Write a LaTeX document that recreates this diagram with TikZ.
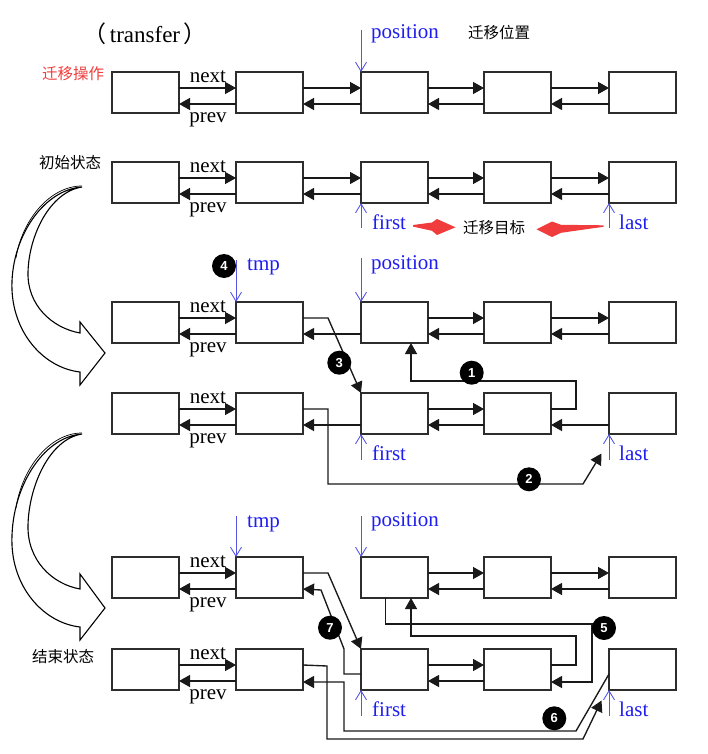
\documentclass[tikz,border=0pt]{standalone}
\usepackage{fontspec}
\setmainfont{Liberation Serif}
\newfontfamily\cjk{Noto Sans CJK SC}
\newfontfamily\numf{Liberation Sans}
\usetikzlibrary{arrows.meta,calc}
\definecolor{boxc}{RGB}{45,45,45}
\definecolor{linec}{RGB}{25,25,25}
\definecolor{ptrc}{RGB}{85,85,230}
\definecolor{ptrtxt}{RGB}{30,30,240}
\definecolor{redc}{RGB}{240,60,60}
\tikzset{
  box/.style={draw=boxc, line width=1.3pt, minimum width=67pt, minimum height=41pt, inner sep=0pt, outer sep=0pt, anchor=north west},
  lnk/.style={draw=linec, line width=1.35pt, -{Triangle[length=11pt,width=12pt]}},
  ptr/.style={draw=ptrc, line width=0.9pt, -{Straight Barb[length=9pt,width=11pt]}},
  ptrlbl/.style={text=ptrtxt, font=\fontsize{21}{24}\selectfont, anchor=base west, inner sep=0pt},
  lbl/.style={text=black, font=\fontsize{21}{24}\selectfont, anchor=base, inner sep=0pt},
  cn/.style={font=\cjk\fontsize{15.5}{18}\selectfont, anchor=west, inner sep=0pt},
  num/.style={circle, fill=black, text=white, font=\numf\bfseries\fontsize{13}{14}\selectfont, minimum size=24pt, inner sep=0pt},
  bigarrow/.style={draw=black, line width=1.1pt, fill=white, line join=miter},
}
\newcommand\nxt[3]{\draw[lnk] ([yshift=-16pt]b#1#2.north east) -- ([yshift=-16pt]b#1#3.north west);}
\newcommand\prv[3]{\draw[lnk] ([yshift=-32pt]b#1#3.north west) -- ([yshift=-32pt]b#1#2.north east);}
\begin{document}
\begin{tikzpicture}[x=1pt,y=-1pt]
\useasboundingbox (0,0) rectangle (708,754);

% boxes and next/prev labels
\foreach \r/\t in {1/72,2/162,3/302,4/393,5/557,6/649}{
  \foreach \i/\x in {1/112,2/236,3/361,4/484,5/609}{
    \node[box] (b\r\i) at (\x,\t) {};
  }
  \node[lbl] (nx\r) at (208,\t+10.5) {next};
  \node[lbl] (pv\r) at (208,\t+50.5) {prev};
}

% title and captions
\node[anchor=base, inner sep=0pt, font=\fontsize{23}{26}\selectfont] (title) at (145,43) {{\cjk （}\hspace{3pt}transfer\hspace{3pt}{\cjk ）}};
\node[cn, text=redc] (op) at (42,74) {迁移操作};
\node[cn] (pos) at (468,33) {迁移位置};
\node[cn] (init) at (39,163) {初始状态};
\node[cn] (tgt) at (463,228) {迁移目标};
\node[cn] (fin) at (32,657) {结束状态};

% row 1
\nxt{1}{1}{2}\prv{1}{1}{2}\nxt{1}{2}{3}\prv{1}{2}{3}\nxt{1}{3}{4}\prv{1}{3}{4}\nxt{1}{4}{5}\prv{1}{4}{5}
\coordinate (p1) at (361,30);
\draw[ptr] (p1) -- (b13.north west);
\node[ptrlbl] (pl1) at (371,38.5) {position};

% row 2
\nxt{2}{1}{2}\prv{2}{1}{2}\nxt{2}{2}{3}\prv{2}{2}{3}\nxt{2}{3}{4}\prv{2}{3}{4}\nxt{2}{4}{5}\prv{2}{4}{5}
\coordinate (f2) at (361,228);
\coordinate (l2) at (609,228);
\draw[ptr] (f2) -- (b23.south west);
\draw[ptr] (l2) -- (b25.south west);
\node[ptrlbl] (fl2) at (372,229) {first};
\node[ptrlbl] (ll2) at (619,229) {last};
\fill[redc] (413,225) -- (432,222.5) -- (437,219) -- (455.5,227.3) -- (437,235) -- (432,230.8) -- (413,226.6) -- cycle;
\fill[redc] (603.5,225.3) -- (561,224.8) -- (552,221.5) -- (536.5,229.3) -- (552,237) -- (561,232.8) -- (603.5,226.8) -- cycle;

% row 3
\nxt{3}{1}{2}\prv{3}{1}{2}\prv{3}{2}{3}\nxt{3}{3}{4}\prv{3}{3}{4}\nxt{3}{4}{5}\prv{3}{4}{5}
\coordinate (t3) at (236,260);
\coordinate (p3) at (361,258);
\draw[ptr] (t3) -- (b32.north west);
\draw[ptr] (p3) -- (b33.north west);
\node[ptrlbl] (tl3) at (247,270.5) {tmp};
\node[ptrlbl] (pl3) at (371,269) {position};

% row 4
\nxt{4}{1}{2}\prv{4}{1}{2}\prv{4}{2}{3}\nxt{4}{3}{4}\prv{4}{3}{4}\prv{4}{4}{5}
\coordinate (f4) at (361,460);
\coordinate (l4) at (609,460);
\draw[ptr] (f4) -- (b43.south west);
\draw[ptr] (l4) -- (b45.south west);
\node[ptrlbl] (fl4) at (372,460.5) {first};
\node[ptrlbl] (ll4) at (619,460.5) {last};

% step connectors between rows 3 and 4
\draw[lnk] ([yshift=-16pt]b42.north east) -- (328,409) -- (328,484) -- (583,484) -- (601.5,453.5);
\draw[lnk] ([yshift=-16pt]b44.north east) -- (576,409) -- (576,381) -- (411,381) -- ([xshift=16.5pt]b33.south);
\draw[lnk] ([yshift=-16pt]b32.north east) -- (328,318) -- (b43.north west);

% row 5
\nxt{5}{1}{2}\prv{5}{1}{2}\nxt{5}{3}{4}\prv{5}{3}{4}\nxt{5}{4}{5}\prv{5}{4}{5}
\coordinate (t5) at (236,516);
\coordinate (p5) at (361,516);
\draw[ptr] (t5) -- (b52.north west);
\draw[ptr] (p5) -- (b53.north west);
\node[ptrlbl] (tl5) at (247,527) {tmp};
\node[ptrlbl] (pl5) at (371,526) {position};

% row 6
\nxt{6}{1}{2}\prv{6}{1}{2}\nxt{6}{3}{4}\prv{6}{3}{4}
\coordinate (f6) at (361,716);
\coordinate (l6) at (609,716);
\draw[ptr] (f6) -- (b63.south west);
\draw[ptr] (l6) -- (b65.south west);
\node[ptrlbl] (fl6) at (372,716.5) {first};
\node[ptrlbl] (ll6) at (619,716.5) {last};

% step connectors between rows 5 and 6
\draw[lnk] ([yshift=-16pt]b52.north east) -- (328,573) -- (b63.north west);
\draw[lnk] ([yshift=-25pt]b63.north west) -- (344,674) -- (344,649) -- (321,590) -- ([yshift=-32pt]b52.north east);
\draw[lnk] ([xshift=-9pt]b53.south) -- (385.5,624) -- (592,624) -- (592,682) -- ([yshift=-33pt]b64.north east);
\draw[lnk] ([yshift=-16pt]b64.north east) -- (576,665) -- (576,636) -- (411,636) -- ([xshift=16.5pt]b53.south);
\draw[lnk] ([yshift=-16pt]b62.north east) -- (327,666) -- (327,739) -- (583,739) -- (601.5,700.5);
\draw[lnk] ([yshift=-25pt]b65.north west) -- (576,731) -- (344,731) -- (344,682) -- ([yshift=-33pt]b62.north east);

% numbered markers
\node[num] (n1) at (471.7,372.7) {1};
\node[num] (n2) at (529,479.3) {2};
\node[num] (n3) at (339.3,362.7) {3};
\node[num] (n4) at (224,266) {4};
\node[num] (n5) at (604,628) {5};
\node[num] (n6) at (554.3,718.3) {6};
\node[num] (n7) at (330,627.7) {7};

% big curved hollow arrows
\draw[bigarrow] (82,187) .. controls (42,190) and (10,240) .. (12,290)
  .. controls (14,335) and (45,368) .. (80,372) -- (80,385) -- (105,353) -- (80,322) -- (80,333)
  .. controls (52,328) and (27,305) .. (28,272) .. controls (29,235) and (50,192) .. (82,187) -- cycle;
\draw[black, line width=0.7pt] (82,186) .. controls (50,186) and (22,220) .. (16,258);
\draw[bigarrow] (82,434) .. controls (42,437) and (10,490) .. (12,545)
  .. controls (14,590) and (45,623) .. (80,627) -- (80,640) -- (105,608) -- (80,574) -- (80,589)
  .. controls (52,584) and (27,560) .. (28,525) .. controls (29,485) and (50,439) .. (82,434) -- cycle;
\draw[black, line width=0.7pt] (82,433) .. controls (50,433) and (22,468) .. (16,508);
\end{tikzpicture}
\end{document}
